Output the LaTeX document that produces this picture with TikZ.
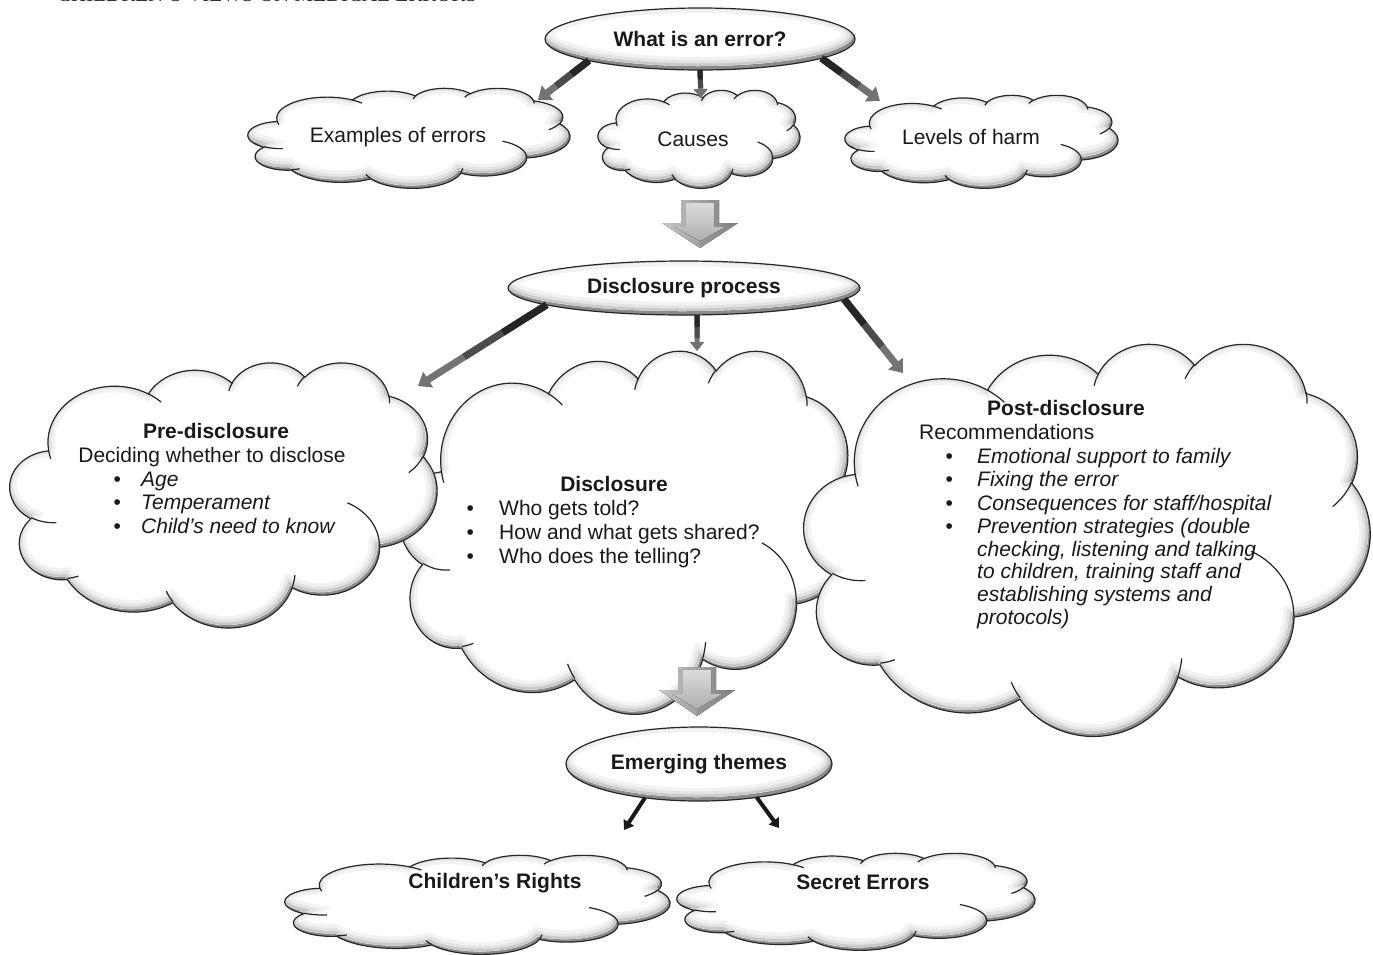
\documentclass[tikz,border=0pt]{standalone}
\usepackage{fontspec}
\setmainfont{Liberation Sans}
\newfontfamily\hdrfont{Liberation Serif}
\usetikzlibrary{shapes.geometric,arrows.meta,calc}

% Office-style cloud arc: x radius, y radius, visual start angle, visual sweep
\newcommand\oa[4]{arc[x radius=#1, y radius=#2, start angle={pa(#3,#1,#2)}, delta angle={mod(pa(#3+#4,#1,#2)-pa(#3,#1,#2)+720,360)}]}

\newcommand\cloudmain{(3.900,14.370)
 \oa{6.753}{9.190}{-190.4875}{123.7805}
 \oa{5.333}{7.267}{-144.1024}{89.9452}
 \oa{4.365}{5.945}{-145.8079}{99.7230}
 \oa{4.857}{6.595}{-130.9861}{117.2417}
 \oa{5.333}{7.273}{-78.7089}{109.0269}
 \oa{6.775}{9.220}{-46.2673}{130.2690}
 \oa{5.785}{7.867}{0.6250}{114.0333}
 \oa{6.752}{9.215}{22.4516}{115.1726}
 \oa{7.720}{10.543}{66.2426}{75.7110}
 \oa{4.360}{5.918}{-274.9421}{146.7356}
 \oa{4.345}{5.945}{-246.8285}{152.5189}
 -- cycle}

\newcommand\cloudticks{(4.693,26.177) \oa{4.345}{5.945}{86.7420}{26.4295}
 (6.928,34.899) \oa{4.360}{5.918}{73.6105}{11.4475}
 (16.478,39.090) \oa{6.752}{9.215}{137.6242}{14.0811}
 (28.827,34.751) \oa{6.752}{9.215}{6.4533}{15.9984}
 (34.129,22.954) \oa{5.785}{7.867}{-70.2924}{70.9174}
 (41.798,15.354) \oa{5.333}{7.273}{30.3180}{27.7515}
 (38.324,5.426) \oa{4.857}{6.595}{-13.7443}{14.8538}
 (29.078,3.952) \oa{4.857}{6.595}{-149.1815}{18.1963}
 (22.141,4.720) \oa{4.365}{5.945}{-163.4943}{17.6881}
 (14.000,5.192) \oa{6.753}{9.190}{-66.7070}{12.3194}
 (4.127,15.789) \oa{6.753}{9.190}{157.6544}{11.8582}}

% cloud with inner shadow: x0 y0 W H (top-left, size, in px)
\newcommand\cloudat[4]{%
 \pgfmathsetmacro\csx{#3/43.2}\pgfmathsetmacro\csy{#4/43.2}%
 \begin{scope}
  \fill[black!45,shift={(#1,#2)},xscale=\csx,yscale=\csy] \cloudmain;
  \begin{scope}
   \clip[shift={(#1,#2)},xscale=\csx,yscale=\csy] \cloudmain;
   \clip[shift={(#1-2,#2-3)},xscale=\csx,yscale=\csy] \cloudmain;
   \fill[white] (#1-10,#2-10) rectangle (#1+#3+10,#2+#4+10);
   \draw[black!5,line width=18pt,shift={(#1-2,#2-3)},xscale=\csx,yscale=\csy] \cloudmain;
   \draw[black!11,line width=11pt,shift={(#1-2,#2-3)},xscale=\csx,yscale=\csy] \cloudmain;
   \draw[black!21,line width=5pt,shift={(#1-2,#2-3)},xscale=\csx,yscale=\csy] \cloudmain;
  \end{scope}
  \draw[outl,shift={(#1,#2)},xscale=\csx,yscale=\csy] \cloudmain;
  \draw[outl,shift={(#1,#2)},xscale=\csx,yscale=\csy] \cloudticks;
 \end{scope}}

% ellipse with inner shadow: cx cy rx ry
\newcommand\ellat[4]{%
 \begin{scope}
  \fill[black!45] (#1,#2) ellipse [x radius=#3, y radius=#4];
  \begin{scope}
   \clip (#1,#2) ellipse [x radius=#3, y radius=#4];
   \clip (#1-2,#2-4) ellipse [x radius=#3, y radius=#4];
   \fill[white] (#1-#3-5,#2-#4-5) rectangle (#1+#3+5,#2+#4+5);
   \draw[black!5,line width=18pt] (#1-2,#2-4) ellipse [x radius=#3, y radius=#4];
   \draw[black!11,line width=11pt] (#1-2,#2-4) ellipse [x radius=#3, y radius=#4];
   \draw[black!21,line width=5pt] (#1-2,#2-4) ellipse [x radius=#3, y radius=#4];
  \end{scope}
  \draw[outl] (#1,#2) ellipse [x radius=#3, y radius=#4];
 \end{scope}}

% 3D block arrow: cx, top y, head y, tip y, shaft half width, head half width
\newcommand\blockarrow[6]{%
 \fill[left color=black!22,right color=black!52]
   (#1-#5,#2) -- (#1+#5,#2) -- (#1+#5,#3) -- (#1+#6,#3) -- (#1,#4) -- (#1-#6,#3) -- (#1-#5,#3) -- cycle;
 \fill[top color=black!14,bottom color=black!32]
   (#1-#5+5,#2+3) -- (#1+#5-5,#2+3) -- (#1+#5-5,#3+4) -- (#1+#6-13,#3+4) -- (#1,#4-7) -- (#1-#6+13,#3+4) -- (#1-#5+5,#3+4) -- cycle;
 \fill[black!45,opacity=0.5] (#1,#4-7) -- (#1+#6-13,#3+4) -- (#1+#6,#3) -- (#1,#4) -- cycle;
}

% graded connector: style, from, to
\newcommand\garrow[3]{%
 \draw[#1,draw=black!55] (#2) -- (#3);
 \draw[#1,-,draw=black!70] (#2) -- ($(#2)!0.64!(#3)$);
 \draw[#1,-,draw=black!85] (#2) -- ($(#2)!0.34!(#3)$);
}

\newcommand\tline[4]{\node[txt,anchor=base west] (#1) at (#2,#3) {#4};}

\begin{document}
\begin{tikzpicture}[x=1pt,y=-1pt,
  declare function={pa(\a,\r,\s)=atan2(\r*sin(\a),\s*cos(\a));},
  outl/.style={draw=black!85,line width=1.2pt},
  txt/.style={font=\fontsize{21}{23.5}\selectfont,inner sep=0pt,text=black!90},
  elln/.style={ellipse,inner sep=0pt,outer sep=0pt,font=\fontsize{21}{23.5}\selectfont\bfseries,text=black!90},
  thk/.style={line width=7pt,-{Triangle[length=12pt,width=18pt]}},
  mid/.style={line width=5pt,-{Triangle[length=9pt,width=14pt]}},
  thn/.style={draw=black!90,line width=4pt,-{Triangle[length=9pt,width=12pt]}}]
\useasboundingbox (0,0) rectangle (1373,954);
\fill[white] (0,0) rectangle (1373,954);

% cropped running header
\node[anchor=base west,inner sep=0pt,font=\hdrfont\fontsize{21}{21}\selectfont,text=black!85] (hd) at (57,1.5) {CHILDREN’S VIEWS ON MEDICAL ERRORS};

% ---- top ellipse
\ellat{700}{39}{155}{31}
\node[elln,minimum width=310pt,minimum height=62pt] (err) at (700,39) {What is an error?};

% ---- first row of clouds
\cloudat{248}{88}{322}{100}
\cloudat{598}{90}{202}{98}
\cloudat{845}{95}{273}{93}
\node[txt] (ex) at (398,137) {Examples of errors};
\node[txt] (ca) at (693,139) {Causes};
\node[txt] (lv) at (971,137) {Levels of harm};

\blockarrow{700}{200}{223}{248}{19}{38}

% ---- disclosure process
\ellat{684}{288}{176}{27}
\node[elln,minimum width=352pt,minimum height=54pt] (dp) at (684,288) {Disclosure process};

% ---- big clouds
\cloudat{400}{350}{458}{363}
\cloudat{10}{362}{427}{265}
\cloudat{804}{343}{566}{392}

\node[txt,anchor=base] (pt) at (216,438) {\textbf{Pre-disclosure}};
\node[txt,anchor=base] (ps) at (212,462) {Deciding whether to disclose};
\tline{p1}{113.5}{486}{\makebox[27.5pt][l]{•}\textit{Age}}
\tline{p2}{113.5}{509}{\makebox[27.5pt][l]{•}\textit{Temperament}}
\tline{p3}{113.5}{533}{\makebox[27.5pt][l]{•}\textit{Child’s need to know}}

\node[txt,anchor=base] (dt) at (614,491) {\textbf{Disclosure}};
\tline{d1}{466.5}{515}{\makebox[32.5pt][l]{•}Who gets told?}
\tline{d2}{466.5}{539}{\makebox[32.5pt][l]{•}How and what gets shared?}
\tline{d3}{466.5}{563}{\makebox[32.5pt][l]{•}Who does the telling?}

\node[txt,anchor=base] (qt) at (1066,415) {\textbf{Post-disclosure}};
\tline{qs}{919}{439}{Recommendations}
\tline{q1}{945.5}{463}{\makebox[31.5pt][l]{•}\textit{Emotional support to family}}
\tline{q2}{945.5}{486}{\makebox[31.5pt][l]{•}\textit{Fixing the error}}
\tline{q3}{945.5}{510}{\makebox[31.5pt][l]{•}\textit{Consequences for staff/hospital}}
\tline{q4}{945.5}{533}{\makebox[31.5pt][l]{•}\textit{Prevention strategies (double}}
\tline{q5}{977}{556}{\textit{checking, listening and talking}}
\tline{q6}{977}{578}{\textit{to children, training staff and}}
\tline{q7}{977}{601}{\textit{establishing systems and}}
\tline{q8}{977}{624}{\textit{protocols)}}

\blockarrow{697}{667}{690}{716}{19}{38}

% ---- emerging themes
\ellat{699}{764}{133}{37}
\node[elln,minimum width=266pt,minimum height=74pt] (em) at (699,764) {Emerging themes};

\cloudat{285}{855}{385}{99}
\cloudat{677}{853}{358}{97}
\node[txt] (cr) at (495,883) {\textbf{Children’s Rights}};
\node[txt] (se) at (863,882) {\textbf{Secret Errors}};

% ---- connectors
\coordinate (t1) at (538,100);
\coordinate (t2) at (701,98);
\coordinate (t3) at (880,101);
\coordinate (t4) at (418,386);
\coordinate (t5) at (697,351);
\coordinate (t6) at (903,373);
\coordinate (t7) at (624,830);
\coordinate (t8) at (779,828);
\garrow{thk}{err.191}{t1}
\garrow{mid}{err.south}{t2}
\garrow{thk}{err.-9}{t3}
\garrow{thk}{dp.187}{t4}
\garrow{mid}{dp.-64}{t5}
\garrow{thk}{dp.-4.3}{t6}
\draw[thn] (em.212) -- (t7);
\draw[thn] (em.-30) -- (t8);
\end{tikzpicture}
\end{document}
